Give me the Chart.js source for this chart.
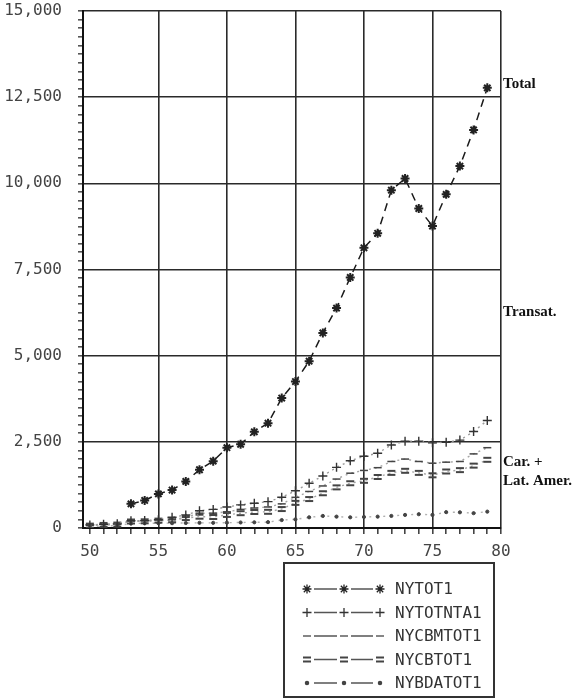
<!DOCTYPE html>
<html><head><meta charset="utf-8">
<script src="https://cdn.jsdelivr.net/npm/chart.js@4.4.0/dist/chart.umd.min.js"></script>
<style>html,body{margin:0;padding:0;background:#fff}#wrap{position:relative;width:579px;height:700px}</style>
</head><body><div id="wrap"><canvas id="c" width="579" height="700"></canvas></div>
<script>
// ---- data ----
const years = [50,51,52,53,54,55,56,57,58,59,60,61,62,63,64,65,66,67,68,69,70,71,72,73,74,75,76,77,78,79];
const NYTOT1    = [null,null,null,700,800,990,1100,1350,1690,1940,2330,2430,2790,3040,3770,4250,4840,5660,6380,7270,8130,8550,9800,10140,9270,8760,9680,10500,11550,12770];
const NYTOTNTA1 = [90,110,120,210,215,240,310,380,500,540,610,670,720,765,890,1080,1300,1510,1760,1950,2080,2170,2410,2520,2520,2470,2490,2550,2800,3120];
const NYCBMTOT1 = [80,100,110,200,205,230,240,310,430,430,470,540,580,610,700,890,1060,1220,1420,1590,1670,1750,1930,2000,1930,1880,1910,1930,2150,2330];
const NYCBTOT1  = [70,90,100,190,195,215,225,290,330,320,380,430,465,470,550,730,840,1010,1180,1300,1370,1480,1600,1660,1600,1530,1640,1680,1810,1980];
const NYBDATOT1 = [40,60,70,130,135,140,140,145,150,150,155,160,165,170,230,250,310,350,330,310,320,330,350,380,400,380,460,455,430,475];
const xTickValues = [50,51,52,53,54,55,56,57,58,59,60,61,62,63,64,65,66,67,68,69,70,71,72,73,74,75,76,77,78,79,80];
const yTickValues = Array.from({length:61},(_,i)=>i*250);
const seriesNames = ['NYTOT1','NYTOTNTA1','NYCBMTOT1','NYCBTOT1','NYBDATOT1'];
const sideLabels = [
  {text:'Total', value:12880},
  {text:'Transat.', value:6250},
  {text:'Car. +', value:1920},
  {text:'Lat. Amer.', value:1370}
];

// custom "=" marker
function eqMarker(){
  const c=document.createElement('canvas');c.width=10;c.height=8;
  const g=c.getContext('2d');g.fillStyle='#444';
  g.fillRect(1,1,8,2);g.fillRect(1,5,8,2);return c;
}
const EQ = eqMarker();

const pts = arr => years.map((y,i)=>({x:y,y:arr[i]}));
const TICKFONT = {family:'"DejaVu Sans Mono", monospace', size:16};

const datasets = [
  {label:seriesNames[0], data:pts(NYTOT1), borderColor:'#1a1a1a', borderWidth:1.5, borderDash:[8,6],
   pointStyle:'star', pointRadius:4.5, pointBorderWidth:2, pointBorderColor:'#222', pointBackgroundColor:'#222'},
  {label:seriesNames[1], data:pts(NYTOTNTA1), borderColor:'#9a9a9a', borderWidth:1.4, borderDash:[2,4],
   pointStyle:'cross', pointRadius:4.5, pointBorderWidth:1.4, pointBorderColor:'#333', pointBackgroundColor:'#333'},
  {label:seriesNames[2], data:pts(NYCBMTOT1), borderColor:'#a5a5a5', borderWidth:1.4, borderDash:[2,4],
   pointStyle:'line', pointRadius:4, pointBorderWidth:1.5, pointBorderColor:'#444', pointBackgroundColor:'#444'},
  {label:seriesNames[3], data:pts(NYCBTOT1), borderColor:'#a5a5a5', borderWidth:1.4, borderDash:[2,4],
   pointStyle:EQ, pointRadius:4, pointBorderWidth:1, pointBorderColor:'#444', pointBackgroundColor:'#444'},
  {label:seriesNames[4], data:pts(NYBDATOT1), borderColor:'#b0b0b0', borderWidth:1.4, borderDash:[2,5],
   pointStyle:'circle', pointRadius:1.6, pointBorderWidth:1, pointBorderColor:'#444', pointBackgroundColor:'#444'}
];

const annotPlugin = {
  id:'annot',
  afterDraw(chart){
    const ctx=chart.ctx, ys=chart.scales.y, area=chart.chartArea;
    ctx.save();
    ctx.font='bold 15px "Liberation Serif", serif';
    ctx.fillStyle='#111';ctx.textBaseline='middle';ctx.textAlign='left';
    sideLabels.forEach(l=>ctx.fillText(l.text, area.right+2, ys.getPixelForValue(l.value)));
    // legend box
    const bx=284, by=563, bw=210, bh=134;
    ctx.strokeStyle='#333';ctx.lineWidth=2;ctx.setLineDash([]);
    ctx.strokeRect(bx,by,bw,bh);
    ctx.font='16px "DejaVu Sans Mono", monospace';
    ctx.fillStyle='#333';
    chart.data.datasets.forEach((ds,i)=>{
      const y=589+i*23.5;
      const mx=[307,344,380];
      ctx.strokeStyle='#555';ctx.lineWidth=1.3;
      ctx.beginPath();
      ctx.moveTo(mx[0]+7,y);ctx.lineTo(mx[1]-7,y);
      ctx.moveTo(mx[1]+7,y);ctx.lineTo(mx[2]-7,y);
      ctx.stroke();
      mx.forEach(x=>{
        ctx.strokeStyle=ds.pointBorderColor;ctx.fillStyle=ds.pointBackgroundColor;
        Chart.helpers.drawPoint(ctx,{pointStyle:ds.pointStyle,radius:ds.pointRadius,rotation:0,borderWidth:ds.pointBorderWidth},x,y);
      });
      ctx.fillStyle='#333';
      ctx.fillText(ds.label,395,y+1);
    });
    ctx.restore();
  }
};

new Chart(document.getElementById('c'),{
  type:'line',
  data:{datasets},
  plugins:[annotPlugin],
  options:{
    responsive:false, animation:false, devicePixelRatio:1,
    layout:{padding:{top:11,right:78,bottom:132,left:0}},
    plugins:{legend:{display:false},tooltip:{enabled:false}},
    scales:{
      x:{type:'linear',min:49.5,max:80,
        afterBuildTicks:s=>{s.ticks=xTickValues.map(v=>({value:v}));},
        afterFit:s=>{s.height=40;s.paddingLeft=0;s.paddingRight=0;},
        ticks:{autoSkip:false,maxRotation:0,padding:8,color:'#444',font:TICKFONT,
          callback:v=>(v%5===0?String(v):'')},
        grid:{color:c=>(c.tick&&c.tick.value%5===0&&c.tick.value!==50)?'#2a2a2a':'rgba(0,0,0,0)',
          tickColor:'#444',tickLength:6,lineWidth:1.6},
        border:{display:true,color:'#111',width:2}
      },
      y:{type:'linear',min:0,max:15000,
        afterBuildTicks:s=>{s.ticks=yTickValues.map(v=>({value:v}));},
        afterFit:s=>{s.width=83;s.paddingTop=0;s.paddingBottom=0;},
        ticks:{autoSkip:false,padding:16,color:'#444',font:TICKFONT,
          callback:v=>(v%2500===0?v.toLocaleString('en-US'):'')},
        grid:{color:c=>(c.tick&&c.tick.value%2500===0)?'#2a2a2a':'rgba(0,0,0,0)',
          tickColor:'#555',tickLength:5,lineWidth:1.6},
        border:{display:true,color:'#111',width:2}
      }
    }
  }
});
</script></body></html>
